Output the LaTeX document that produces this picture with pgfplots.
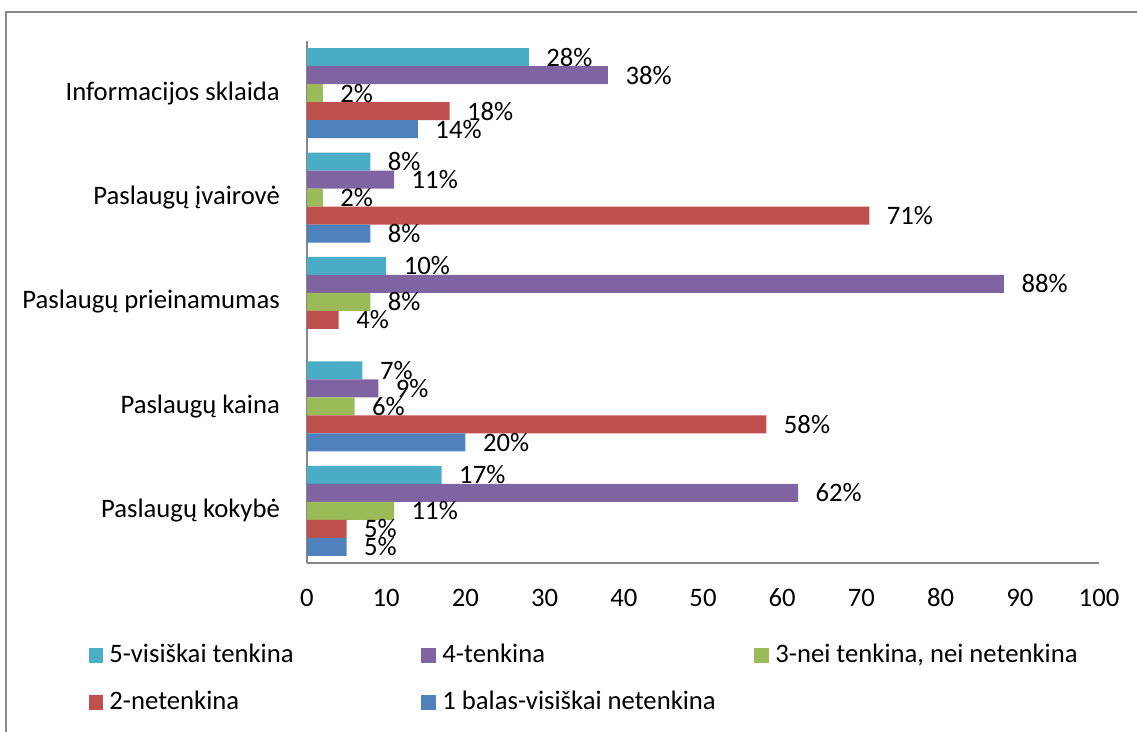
\documentclass[border=0pt]{standalone}
\usepackage{pgfplots}
\pgfplotsset{compat=1.18}
\usepackage{fontspec}
\setmainfont{Carlito}
\definecolor{c5}{HTML}{4BACC6}
\definecolor{c4}{HTML}{8064A2}
\definecolor{c3}{HTML}{9BBB59}
\definecolor{c2}{HTML}{C0504D}
\definecolor{c1}{HTML}{4F81BD}
\definecolor{axgray}{HTML}{888888}
\begin{document}
\begin{tikzpicture}
\begin{axis}[
  at={(115.125pt,63.375pt)}, anchor=south west,
  scale only axis,
  width=297pt, height=195.75pt,
  xbar,
  bar width=0.1724,
  xmin=0, xmax=100,
  ymin=-0.5, ymax=4.5,
  xtick={0,10,...,100},
  ytick={0,1,2,3,4},
  yticklabels={Paslaugų kokybė, Paslaugų kaina, Paslaugų prieinamumas, Paslaugų įvairovė, Informacijos sklaida},
  axis x line*=bottom,
  axis y line*=left,
  axis line style={axgray, line width=0.6pt},
  major tick length=0pt,
  /pgf/number format/assume math mode=true,
  ticklabel style={font=\fontsize{10}{12}\selectfont, inner sep=0pt},
  yticklabel style={anchor=east, xshift=-10pt},
  xticklabel style={anchor=base, yshift=-16.3pt},
  nodes near coords={\pgfmathprintnumber{\pgfplotspointmeta}\%},
  nodes near coords style={font=\fontsize{10}{12}\selectfont, anchor=west, inner sep=0pt, xshift=6.4pt, text=black},
  legend columns=3,
  legend style={at={(-0.2765,-0.155)}, anchor=north west, draw=none, inner sep=0pt,
    column sep=0pt, row sep=9pt, font=\fontsize{10}{12}\selectfont, nodes={inner sep=0pt}},
  legend cell align=left,
  legend image code/.code={\fill[#1] (0pt,-2.8pt) rectangle (5.6pt,2.8pt);},
]
\addplot[fill=c5, draw=none, bar shift=0.3448] coordinates {(17,0) (7,1) (10,2) (8,3) (28,4)};
\addlegendentry{\hspace{2.25pt}\makebox[117pt][l]{5-visiškai tenkina}}
\addplot[fill=c4, draw=none, bar shift=0.1724] coordinates {(62,0) (9,1) (88,2) (11,3) (38,4)};
\addlegendentry{\hspace{2.25pt}\makebox[117pt][l]{4-tenkina}}
\addplot[fill=c3, draw=none, bar shift=0] coordinates {(11,0) (6,1) (8,2) (2,3) (2,4)};
\addlegendentry{\hspace{2.25pt}\makebox[117pt][l]{3-nei tenkina, nei netenkina}}
\addplot[fill=c2, draw=none, bar shift=-0.1724] coordinates {(5,0) (58,1) (4,2) (71,3) (18,4)};
\addlegendentry{\hspace{2.25pt}\makebox[117pt][l]{2-netenkina}}
\addplot[fill=c1, draw=none, bar shift=-0.3448] coordinates {(5,0) (20,1) (8,3) (14,4)};
\addlegendentry{\hspace{2.25pt}\makebox[117pt][l]{1 balas-visiškai netenkina}}
\end{axis}
\draw[axgray, line width=0.75pt] (2.25pt,-10pt) -- (2.25pt,270.1pt) -- (440pt,270.1pt);
\pgfresetboundingbox
\path (0,0) rectangle (426.375pt,274.5pt);
\end{tikzpicture}
\end{document}
